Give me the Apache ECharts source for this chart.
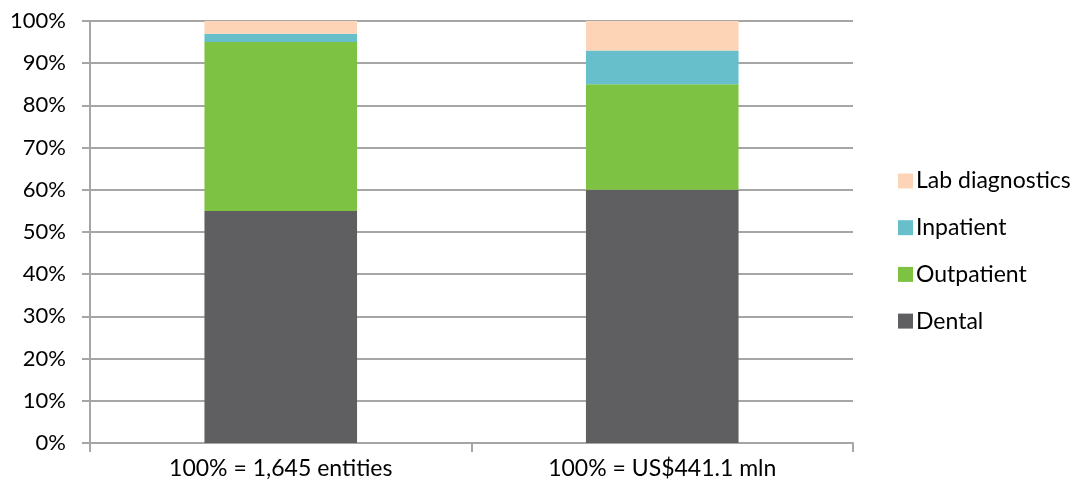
<!DOCTYPE html>
<html>
<head>
<meta charset="utf-8">
<style>
  html, body { margin: 0; padding: 0; background: #ffffff; }
  #chart { width: 1080px; height: 489px; }
</style>
<script src="https://cdn.jsdelivr.net/npm/echarts@6/dist/echarts.min.js"></script>
</head>
<body>
<div id="chart"></div>
<script>
// Share of segments, by entity count and by revenue
const categories = ['100% = 1,645 entities', '100% = US$441.1 mln'];
const dental = [55, 60];
const outpatient = [40, 25];
const inpatient = [2, 8];
const labDiagnostics = [3, 7];
const yTicks = [0, 10, 20, 30, 40, 50, 60, 70, 80, 90, 100];

const FONT = 'Lato, "Open Sans", sans-serif';
const chart = echarts.init(document.getElementById('chart'), null, { renderer: 'canvas' });

const barSeries = (name, data, color) => ({
  name: name,
  type: 'bar',
  stack: 'total',
  data: data,
  barWidth: '40%',
  itemStyle: { color: color },
  emphasis: { disabled: true }
});

chart.setOption({
  animation: false,
  textStyle: { fontFamily: FONT },
  grid: { left: 90, right: 227, top: 21, bottom: 46 },
  legend: {
    orient: 'vertical',
    left: 893,
    top: 163,
    itemWidth: 15,
    itemHeight: 15,
    itemGap: 20.7,
    icon: 'rect',
    data: ['Lab diagnostics', 'Inpatient', 'Outpatient', 'Dental'],
    textStyle: { fontSize: 23, lineHeight: 26, color: '#000', fontFamily: FONT, padding: [0, 0, 0, -2] }
  },
  xAxis: {
    type: 'category',
    data: categories,
    boundaryGap: true,
    axisLine: { lineStyle: { color: '#a6a6a6', width: 2 } },
    axisTick: { show: true, alignWithLabel: false, length: 9, lineStyle: { color: '#a6a6a6', width: 2 } },
    axisLabel: { fontSize: 23, color: '#000', margin: 14, fontFamily: FONT }
  },
  yAxis: {
    type: 'value',
    min: 0,
    max: 100,
    interval: 10,
    axisLine: { show: true, lineStyle: { color: '#a6a6a6', width: 2 } },
    axisTick: { show: true, inside: false, length: 8, lineStyle: { color: '#a6a6a6', width: 2 } },
    splitLine: { show: true, lineStyle: { color: '#a6a6a6', width: 2 } },
    axisLabel: {
      fontSize: 22, color: '#000', margin: 24, fontFamily: FONT,
      formatter: v => (yTicks.includes(v) ? v + '%' : '')
    }
  },
  series: [
    barSeries('Dental', dental, '#5f5f61'),
    barSeries('Outpatient', outpatient, '#7dc242'),
    barSeries('Inpatient', inpatient, '#67bfcb'),
    barSeries('Lab diagnostics', labDiagnostics, '#fdd4b5')
  ]
});
</script>
</body>
</html>
